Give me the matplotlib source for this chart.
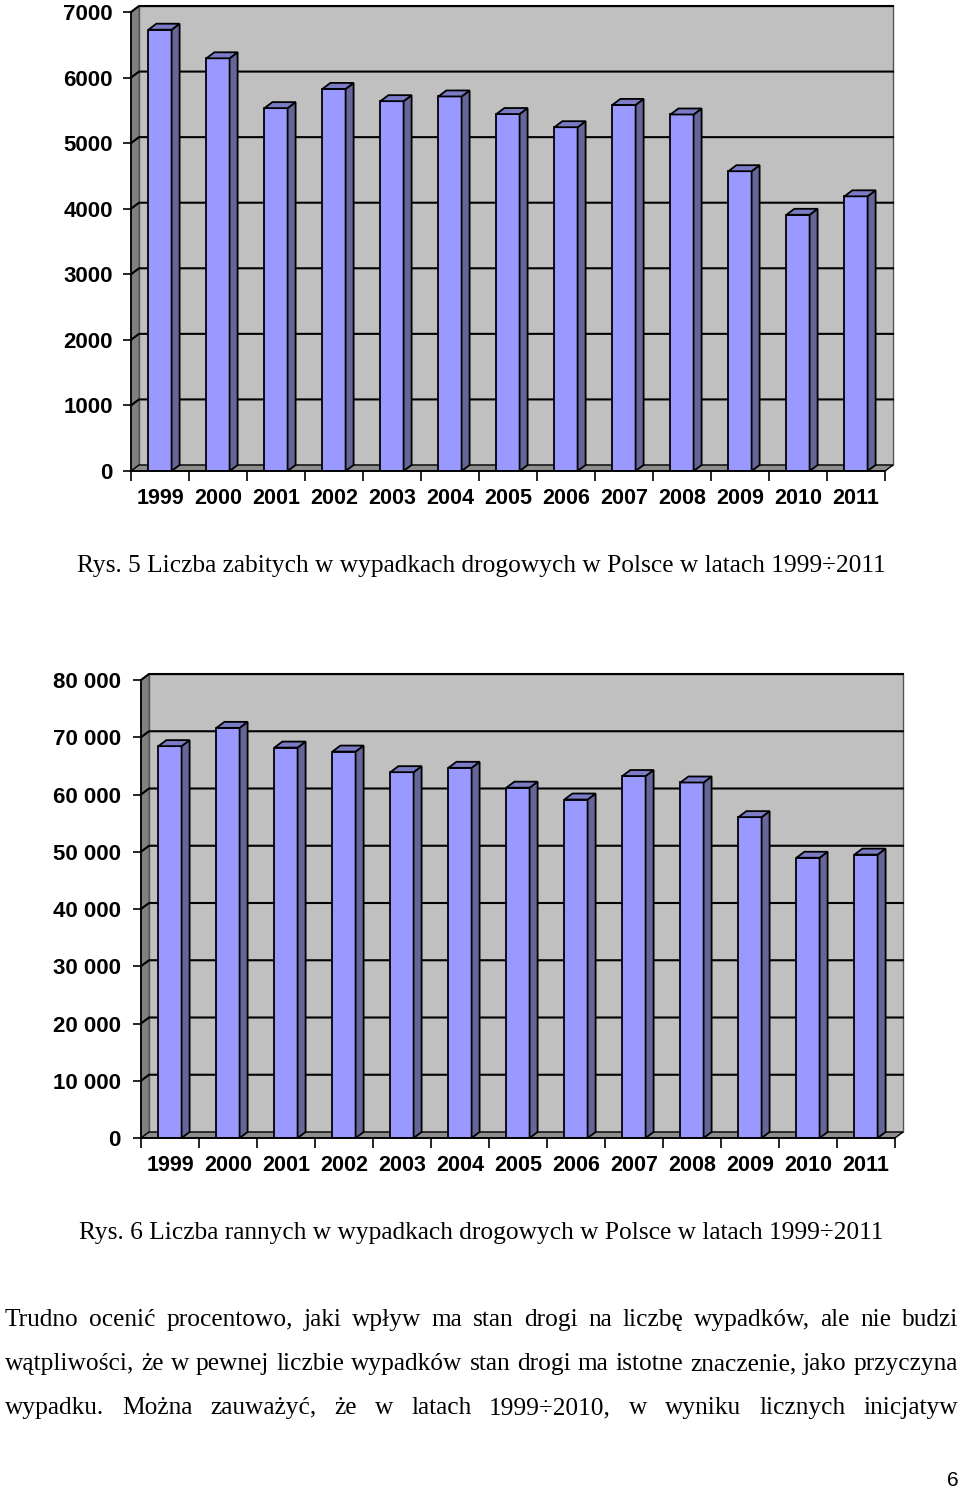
import numpy as np
import matplotlib
matplotlib.use("Agg")
import matplotlib.pyplot as plt
from matplotlib.patches import Polygon

# data: road accidents in Poland 1999-2011
years = [str(y) for y in range(1999, 2012)]
killed = [6730, 6294, 5534, 5827, 5640, 5712, 5444, 5243, 5583, 5437, 4572, 3907, 4189]
injured = [68449, 71638, 68194, 67498, 63900, 64661, 61191, 59123, 63224, 62097, 56046, 48952, 49501]
killed_ticks = list(range(0, 7001, 1000))
injured_ticks = list(range(0, 80001, 10000))
killed_labels = [str(t) for t in killed_ticks]
injured_labels = [f"{t:,}".replace(",", " ") for t in injured_ticks]

caption1 = "Rys. 5 Liczba zabitych w wypadkach drogowych w Polsce w latach 1999\u00f72011"
caption2 = "Rys. 6 Liczba rannych w wypadkach drogowych w Polsce w latach 1999\u00f72011"
paragraph = [
    "Trudno oceni\u0107 procentowo, jaki wp\u0142yw ma stan drogi na liczb\u0119 wypadk\u00f3w, ale nie budzi",
    "w\u0105tpliwo\u015bci, \u017ce w pewnej liczbie wypadk\u00f3w stan drogi ma istotne znaczenie, jako przyczyna",
    "wypadku. Mo\u017cna zauwa\u017cy\u0107, \u017ce w latach 1999\u00f72010, w wyniku licznych inicjatyw",
]

W, H = 960, 1491
FRONT = "#9999FF"
SIDE = "#666699"
TOP = "#7B7BC6"
WALL = "#C0C0C0"
SIDEWALL = "#808080"
FLOOR = "#8E8E8E"


def draw_chart(ax, values, ticks, labels, px_w, px_h, pad_y):
    n = len(values)
    ymax = ticks[-1]
    ax.set_xlim(-0.5, n - 0.5)
    ax.set_ylim(0, ymax)
    ax.set_facecolor("none")
    # depth of the 3d effect, converted from pixels to data units
    dx = 8 * n / px_w
    dy = 6 * ymax / px_h
    x0, x1 = -0.5, n - 0.5

    ax.add_patch(Polygon([(x0 + dx, dy), (x1 + dx, dy), (x1 + dx, ymax + dy), (x0 + dx, ymax + dy)],
                         closed=True, fc=WALL, ec="#555555", lw=1.0, clip_on=False, zorder=0))
    ax.add_patch(Polygon([(x0, 0), (x0 + dx, dy), (x0 + dx, ymax + dy), (x0, ymax)],
                         closed=True, fc=SIDEWALL, ec="#555555", lw=0.8, clip_on=False, zorder=0))
    ax.add_patch(Polygon([(x0, 0), (x1, 0), (x1 + dx, dy), (x0 + dx, dy)],
                         closed=True, fc=FLOOR, ec="black", lw=1.0, clip_on=False, zorder=1))
    for t in ticks[1:]:
        ax.plot([x0, x0 + dx, x1 + dx], [t, t + dy, t + dy], color="black", lw=1.5,
                clip_on=False, zorder=1)

    x = np.arange(n)
    bw = 0.4
    ax.bar(x, values, width=bw, color=FRONT, edgecolor="black", linewidth=1.3, zorder=3)
    for xi, v in zip(x, values):
        l, r = xi - bw / 2, xi + bw / 2
        ax.add_patch(Polygon([(r, 0), (r + dx, dy), (r + dx, v + dy), (r, v)],
                             closed=True, fc=SIDE, ec="black", lw=1.3, clip_on=False, zorder=3))
        ax.add_patch(Polygon([(l, v), (r, v), (r + dx, v + dy), (l + dx, v + dy)],
                             closed=True, fc=TOP, ec="black", lw=1.3, clip_on=False, zorder=3))

    for s in ["top", "right"]:
        ax.spines[s].set_visible(False)
    for s in ["left", "bottom"]:
        ax.spines[s].set_linewidth(1.3)
        ax.spines[s].set_zorder(4)
    ax.set_yticks(ticks)
    ax.set_yticklabels(labels, fontsize=16, fontweight="bold", family="Liberation Sans")
    ax.tick_params(axis="y", length=6, width=1.2, pad=pad_y)
    ax.set_xticks(np.arange(-0.5, n, 1.0))
    ax.set_xticklabels([])
    ax.tick_params(axis="x", which="major", length=7, width=1.2)
    ax.set_xticks(x, minor=True)
    ax.set_xticklabels(years, minor=True, fontsize=15.5, fontweight="bold", family="Liberation Sans")
    ax.tick_params(axis="x", which="minor", length=0, pad=12)


def justify(fig, line, y, xl, xr, **kw):
    words = line.split()
    texts = [fig.text(0, y / H, w, va="center", ha="left", **kw) for w in words]
    r = fig.canvas.get_renderer()
    widths = [t.get_window_extent(r).width for t in texts]
    gap = ((xr - xl) - sum(widths)) / (len(words) - 1)
    xpos = xl
    for t, wd in zip(texts, widths):
        t.set_x(xpos / W)
        xpos += wd + gap


fig = plt.figure(figsize=(W / 100, H / 100), dpi=100)

# chart 1: axes area in pixels
ax1 = fig.add_axes([131 / W, 1 - 471 / H, 754 / W, 459 / H])
draw_chart(ax1, killed, killed_ticks, killed_labels, 754, 459, 7)

ax2 = fig.add_axes([141 / W, 1 - 1138 / H, 754 / W, 458 / H])
draw_chart(ax2, injured, injured_ticks, injured_labels, 754, 458, 8.5)

serif = dict(family="Liberation Serif", fontsize=18.3, color="black")
fig.text(481.5 / W, 1 - 566 / H, caption1, ha="center", va="center", **serif)
fig.text(481.5 / W, 1 - 1233 / H, caption2, ha="center", va="center", **serif)

fig.canvas.draw()
for i, line in enumerate(paragraph):
    justify(fig, line, H - (1320 + 44 * i), 5, 958, **serif)

fig.text(953 / W, 1 - 1480 / H, "6", ha="center", va="center", family="Liberation Sans", fontsize=15)

fig.savefig("out.png", dpi=100, facecolor="white")
